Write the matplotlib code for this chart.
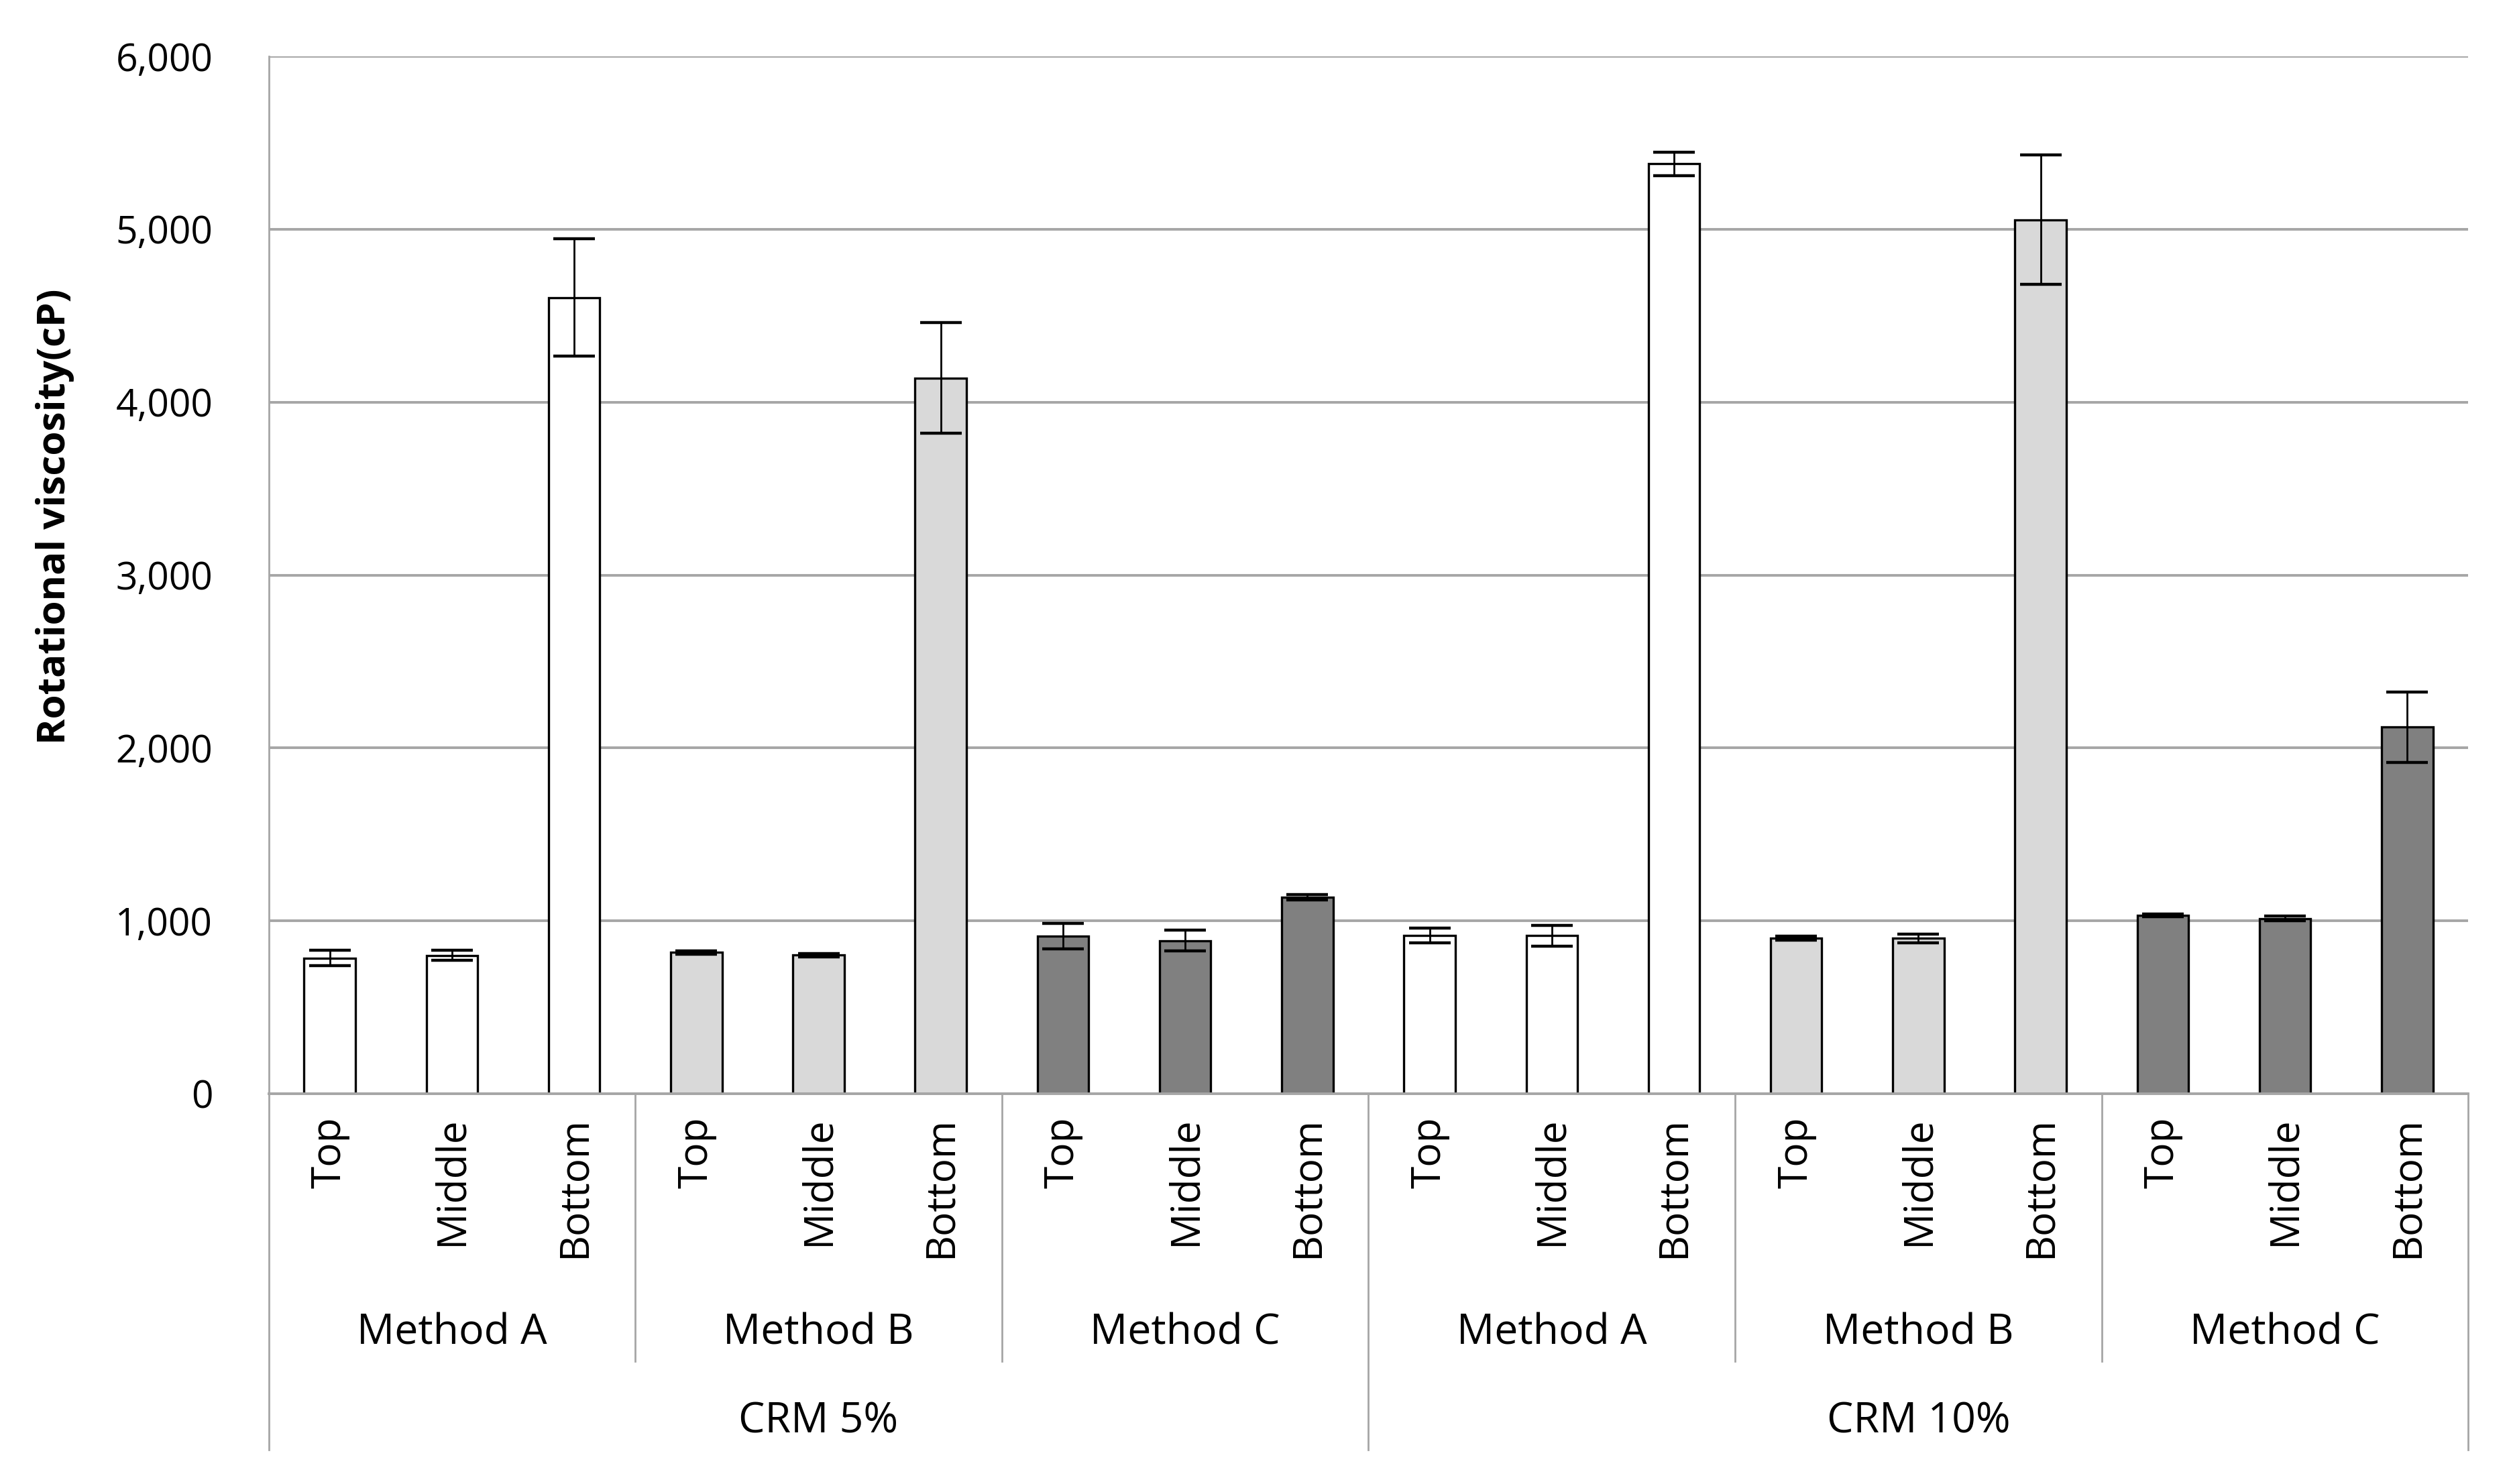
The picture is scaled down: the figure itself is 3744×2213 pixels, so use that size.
import matplotlib
matplotlib.use("Agg")
import matplotlib.pyplot as plt
from matplotlib.ticker import FuncFormatter
import numpy as np

plt.rcParams['font.family'] = ['Open Sans', 'DejaVu Sans']

positions_lbl = ["Top", "Middle", "Bottom"]
methods = ["Method A", "Method B", "Method C"]
crm_levels = ["CRM 5%", "CRM 10%"]

# values per (CRM level, method), order Top/Middle/Bottom
crm5_a = [785, 800, 4605]
crm5_a_err = [46, 30, 340]
crm5_b = [817, 801, 4140]
crm5_b_err = [10, 10, 320]
crm5_c = [912, 885, 1135]
crm5_c_err = [75, 60, 15]
crm10_a = [915, 915, 5378]
crm10_a_err = [44, 60, 68]
crm10_b = [899, 899, 5055]
crm10_b_err = [12, 25, 375]
crm10_c = [1031, 1014, 2120]
crm10_c_err = [8, 15, 205]

method_colors = {"Method A": "#ffffff", "Method B": "#d9d9d9", "Method C": "#808080"}

groups = [
    ("CRM 5%", "Method A", crm5_a, crm5_a_err),
    ("CRM 5%", "Method B", crm5_b, crm5_b_err),
    ("CRM 5%", "Method C", crm5_c, crm5_c_err),
    ("CRM 10%", "Method A", crm10_a, crm10_a_err),
    ("CRM 10%", "Method B", crm10_b, crm10_b_err),
    ("CRM 10%", "Method C", crm10_c, crm10_c_err),
]

fig = plt.figure(figsize=(18.72, 11.065), dpi=200)
ax = fig.add_axes([0.107, 0.263, 0.876, 0.699])

grid_c = "#a6a6a6"
fs_tick = 20.5
fs_rot = 21.8
fs_cat = 22.5

for gi, (crm, meth, vals, errs) in enumerate(groups):
    xs = np.arange(3) + gi * 3
    ax.bar(xs, vals, width=0.42, color=method_colors[meth], edgecolor="black",
           linewidth=1.2, zorder=3)
    ax.errorbar(xs, vals, yerr=errs, fmt="none", ecolor="black", elinewidth=1.0,
                capsize=11, capthick=1.6, zorder=4)

ax.set_xlim(-0.5, 17.5)
ax.set_ylim(0, 6000)
ax.set_yticks(np.arange(0, 6001, 1000))
ax.yaxis.set_major_formatter(FuncFormatter(lambda v, p: f"{int(v):,}"))
ax.tick_params(axis="y", length=0, pad=30, labelsize=fs_tick)
ax.set_xticks([])
ax.yaxis.grid(True, color=grid_c, linewidth=1.4, zorder=0)
ax.set_axisbelow(True)
for s in ["top", "right", "bottom"]:
    ax.spines[s].set_visible(False)
ax.spines["left"].set_color(grid_c)
ax.spines["left"].set_linewidth(1.0)
ax.axhline(0, color=grid_c, linewidth=1.4, zorder=5, clip_on=False)

trans = ax.get_xaxis_transform()

# position labels (rotated)
for gi in range(6):
    for pi, lbl in enumerate(positions_lbl):
        ax.text(gi * 3 + pi, -0.022, lbl, rotation=90, ha="center", va="top",
                fontsize=fs_rot, transform=trans)

# method labels
for gi, (crm, meth, vals, errs) in enumerate(groups):
    ax.text(gi * 3 + 1, -0.231, meth, ha="center", va="center", fontsize=fs_cat,
            transform=trans)

# CRM labels
for ci, crm in enumerate(crm_levels):
    ax.text(ci * 9 + 4, -0.316, crm, ha="center", va="center", fontsize=fs_cat,
            transform=trans)

# separators
sep_lw = 1.0
for b in [2.5, 5.5, 11.5, 14.5]:
    ax.plot([b, b], [0, -0.258], color=grid_c, lw=sep_lw, transform=trans,
            clip_on=False)
for b in [-0.5, 8.5, 17.5]:
    ax.plot([b, b], [0, -0.343], color=grid_c, lw=sep_lw, transform=trans,
            clip_on=False)

fig.text(0.022, 0.652, "Rotational viscosity(cP)", rotation=90, ha="center",
         va="center", fontsize=21, fontweight="bold")

fig.savefig("out.png", dpi=200, facecolor="white")
